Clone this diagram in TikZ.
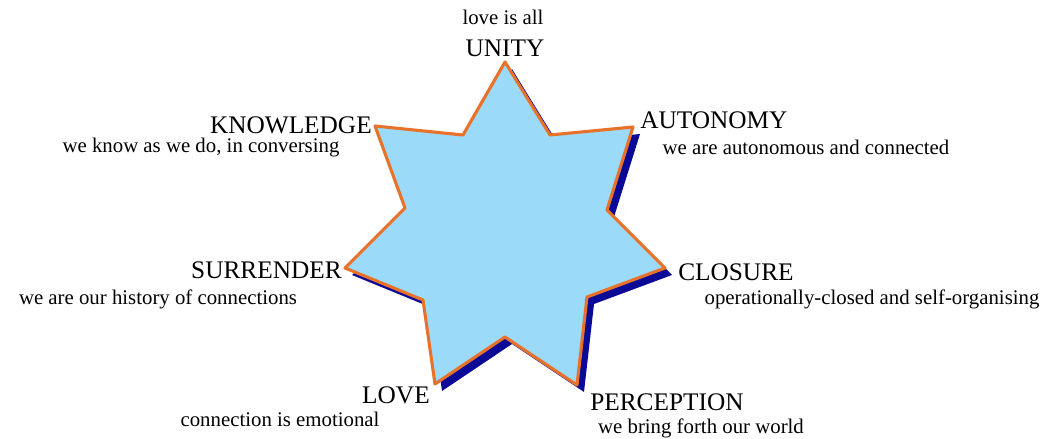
\documentclass[tikz,border=0pt]{standalone}
\usepackage{fontspec}
\setmainfont{Liberation Serif}
\usetikzlibrary{positioning}
\definecolor{starfill}{HTML}{9BDAF8}
\definecolor{staredge}{HTML}{E8722A}
\definecolor{shadowc}{HTML}{0A0A96}
\newcommand{\starpath}{(505,62) -- (550,135) -- (633,127) -- (607,210) -- (665,268) -- (587,297) -- (577,385) -- (505,337) -- (435,384) -- (423,300) -- (345,268) -- (405,208) -- (375,126) -- (463,135) -- cycle}
\tikzset{
  head/.style={font=\fontsize{18}{20}\selectfont,inner sep=0pt},
  note/.style={font=\fontsize{14.8}{16}\selectfont,inner sep=0pt}
}

\begin{document}
\begin{tikzpicture}[x=0.025cm,y=-0.025cm]
\useasboundingbox[fill=white] (0,0) rectangle (1053,439);
\fill[shadowc,shift={(7,7)}] \starpath;
\filldraw[fill=starfill,draw=staredge,line width=2.2pt,line join=round] \starpath;
\node[note] (lovetxt) at (503,17) {love is all};
\node[head] (unity) at (505,48) {UNITY};
\node[head,anchor=west] (autonomy) at (640,120) {AUTONOMY};
\node[note] (autotxt) at (806,147) {we are autonomous and connected};
\node[head,anchor=east] (knowledge) at (372,125) {KNOWLEDGE};
\node[note] (knowtxt) at (201,148) {we know as we do, in conversing};
\node[head,anchor=west] (closure) at (678,272) {CLOSURE};
\node[note] (closetxt) at (872,299) {operationally-closed and self-organising};
\node[head,anchor=east] (surrender) at (342,270) {SURRENDER};
\node[note] (surrtxt) at (158,299) {we are our history of connections};
\node[head,anchor=east] (love) at (430,395) {LOVE};
\node[note] (emotxt) at (280,419) {connection is emotional};
\node[head,anchor=west] (perception) at (590,402) {PERCEPTION};
\node[note] (worldtxt) at (701,428) {we bring forth our world};
\end{tikzpicture}
\end{document}
